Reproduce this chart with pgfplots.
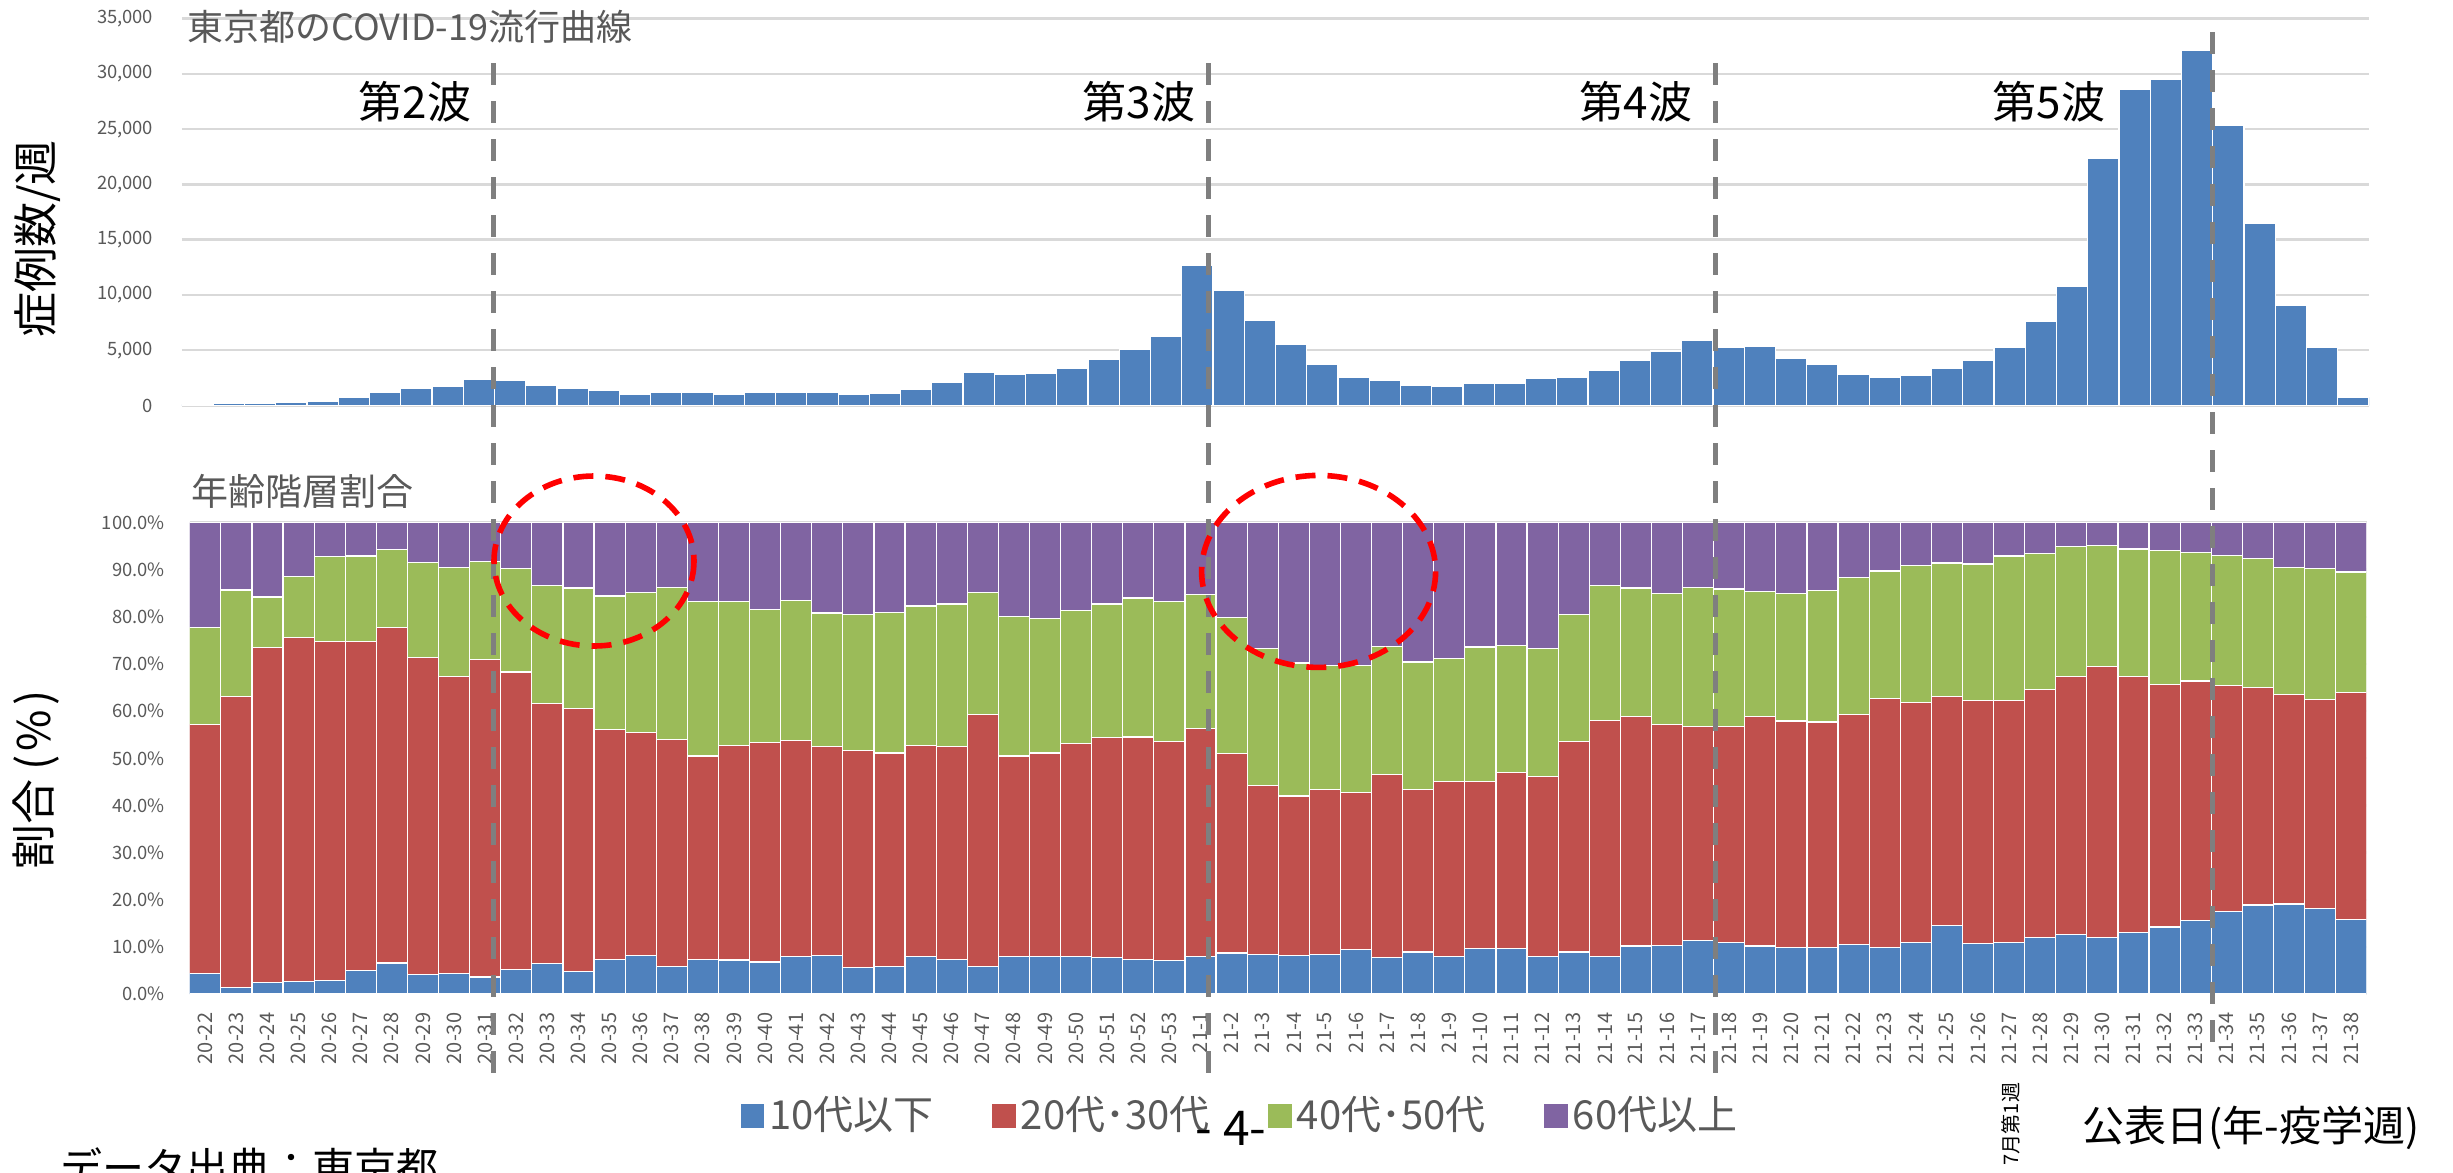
\documentclass[border=0pt]{standalone}
\usepackage{pgfplots}
\pgfplotsset{compat=1.18}
\usepackage{pgfplotstable}
\usepackage{fontspec}
\setmainfont{Noto Sans CJK JP}
\definecolor{cBlue}{HTML}{4F81BD}
\definecolor{cRed}{HTML}{C0504D}
\definecolor{cGreen}{HTML}{9BBB59}
\definecolor{cPurple}{HTML}{8064A2}
\definecolor{txtC}{HTML}{595959}
\definecolor{gridC}{HTML}{D9D9D9}
\definecolor{dashC}{HTML}{7F7F7F}

\pgfplotstableread{
i v b r g p
0 90 4.4 52.8 20.5 22.3
1 150 1.3 61.8 22.6 14.3
2 200 2.5 71.0 10.7 15.8
3 250 2.6 73.0 13.0 11.4
4 350 2.9 71.9 18.0 7.2
5 700 5.0 69.8 18.1 7.1
6 1160 6.6 71.1 16.5 5.8
7 1520 4.2 67.2 20.1 8.5
8 1760 4.4 62.9 23.2 9.5
9 2370 3.6 67.3 20.8 8.3
10 2310 5.2 63.1 21.9 9.8
11 1790 6.5 55.1 25.1 13.3
12 1550 4.8 55.7 25.6 13.9
13 1400 7.3 48.8 28.3 15.6
14 1010 8.2 47.3 29.6 14.9
15 1220 5.9 48.1 32.3 13.7
16 1190 7.3 43.2 32.8 16.7
17 1010 7.2 45.5 30.6 16.7
18 1190 6.8 46.5 28.3 18.4
19 1220 7.9 45.8 29.8 16.5
20 1220 8.2 44.3 28.3 19.2
21 1010 5.7 45.9 28.9 19.5
22 1130 5.8 45.3 29.9 19.0
23 1430 8.0 44.7 29.6 17.7
24 2060 7.3 45.2 30.2 17.3
25 3000 5.8 53.5 25.9 14.8
26 2820 8.0 42.5 29.5 20.0
27 2910 8.0 43.1 28.5 20.4
28 3360 7.9 45.2 28.3 18.6
29 4150 7.7 46.7 28.3 17.3
30 5050 7.3 47.2 29.5 16.0
31 6230 7.1 46.4 29.7 16.8
32 12700 8.0 48.3 28.5 15.2
33 10390 8.7 42.3 28.8 20.2
34 7670 8.4 35.8 29.0 26.8
35 5500 8.2 33.8 28.2 29.8
36 3750 8.4 34.9 26.3 30.4
37 2580 9.5 33.2 26.9 30.4
38 2310 7.8 38.8 27.1 26.3
39 1790 8.9 34.4 27.1 29.6
40 1730 8.0 37.1 26.0 28.9
41 1970 9.6 35.4 28.6 26.4
42 2030 9.6 37.4 27.0 26.0
43 2430 8.0 38.1 27.2 26.7
44 2550 8.9 44.6 27.0 19.5
45 3180 8.0 50.0 28.6 13.4
46 4060 10.2 48.6 27.3 13.9
47 4930 10.3 46.8 27.9 15.0
48 5870 11.4 45.4 29.5 13.7
49 5230 11.0 45.7 29.2 14.1
50 5320 10.2 48.6 26.6 14.6
51 4300 9.9 48.0 27.1 15.0
52 3720 9.9 47.8 27.9 14.4
53 2850 10.5 48.7 29.1 11.7
54 2580 9.8 52.9 27.0 10.3
55 2700 11.0 50.8 29.0 9.2
56 3390 14.6 48.5 28.3 8.6
57 4060 10.7 51.5 29.0 8.8
58 5260 11.0 51.3 30.6 7.1
59 7640 12.0 52.6 28.8 6.6
60 10810 12.7 54.6 27.6 5.1
61 22320 12.0 57.5 25.6 4.9
62 28620 13.0 54.3 27.1 5.6
63 29500 14.2 51.5 28.3 6.0
64 32150 15.6 50.8 27.2 6.4
65 25340 17.5 47.9 27.6 7.0
66 16480 18.9 46.1 27.3 7.7
67 9030 19.1 44.4 27.0 9.5
68 5260 18.2 44.3 27.7 9.8
69 740 15.8 48.1 25.6 10.5
}\data

\begin{document}
\begin{tikzpicture}
\path[use as bounding box, clip] (0pt,0pt) rectangle (613.25pt,293pt);

% top: weekly cases
\begin{axis}[
  at={(45.5pt,191.625pt)}, anchor=south west,
  scale only axis, width=546.75pt, height=96.75pt,
  xmin=-0.5, xmax=69.5, ymin=0, ymax=35000,
  ytick={0,5000,10000,15000,20000,25000,30000,35000},
  xtick=\empty,
  ymajorgrids, grid style={draw=gridC, line width=0.6pt},
  axis line style={draw=none},
  major tick length=0pt,
  scaled y ticks=false,
  /pgf/number format/1000 sep={,},
  /pgf/number format/assume math mode=true,
  yticklabel style={font=\fontsize{4.6}{5}\selectfont, text=txtC, anchor=east, inner sep=0pt},
  yticklabel shift=7pt,
]
\addplot[ybar, bar width=1, fill=cBlue, draw=white, line width=0.3pt] table[x=i,y=v]{\data};
\end{axis}

% bottom: age shares
\begin{axis}[
  at={(47.425pt,44.5pt)}, anchor=south west,
  scale only axis, width=544.25pt, height=117.875pt,
  xmin=-0.5, xmax=69.5, ymin=0, ymax=100,
  ybar stacked, bar width=1,
  ytick={0,10,20,30,40,50,60,70,80,90,100},
  yticklabel={\pgfmathprintnumber[fixed,fixed zerofill,precision=1]{\tick}\%},
  /pgf/number format/assume math mode=true,
  xtick={0,...,69},
  xticklabels={20-22,20-23,20-24,20-25,20-26,20-27,20-28,20-29,20-30,20-31,20-32,20-33,20-34,20-35,20-36,20-37,20-38,20-39,20-40,20-41,20-42,20-43,20-44,20-45,20-46,20-47,20-48,20-49,20-50,20-51,20-52,20-53,21-1,21-2,21-3,21-4,21-5,21-6,21-7,21-8,21-9,21-10,21-11,21-12,21-13,21-14,21-15,21-16,21-17,21-18,21-19,21-20,21-21,21-22,21-23,21-24,21-25,21-26,21-27,21-28,21-29,21-30,21-31,21-32,21-33,21-34,21-35,21-36,21-37,21-38},
  xticklabel style={rotate=90, anchor=east, font=\fontsize{5}{5}\selectfont, text=txtC, inner sep=0pt},
  xticklabel shift=4.5pt,
  yticklabel style={font=\fontsize{4.6}{5}\selectfont, text=txtC, anchor=east, inner sep=0pt},
  yticklabel shift=6pt,
  ymajorgrids, grid style={draw=gridC, line width=0.6pt},
  axis line style={draw=none},
  major tick length=0pt,
  legend columns=4,
  legend style={at={(0.2528,-0.2588)}, anchor=west, draw=none, fill=none, inner sep=0pt,
    font=\fontsize{10}{10}\selectfont, text=txtC,
    nodes={inner sep=1.2pt},
    /tikz/every even column/.append style={column sep=13.5pt}},
]
\addplot[fill=cBlue, draw=white, line width=0.3pt, legend image code/.code={\fill[cBlue] (0pt,-2.9pt) rectangle (5.6pt,2.9pt);}] table[x=i,y=b]{\data};
\addplot[fill=cRed, draw=white, line width=0.3pt, legend image code/.code={\fill[cRed] (0pt,-2.9pt) rectangle (5.6pt,2.9pt);}] table[x=i,y=r]{\data};
\addplot[fill=cGreen, draw=white, line width=0.3pt, legend image code/.code={\fill[cGreen] (0pt,-2.9pt) rectangle (5.6pt,2.9pt);}] table[x=i,y=g]{\data};
\addplot[fill=cPurple, draw=white, line width=0.3pt, legend image code/.code={\fill[cPurple] (0pt,-2.9pt) rectangle (5.6pt,2.9pt);}] table[x=i,y=p]{\data};
\legend{10代以下,20代･30代,40代･50代,60代以上}
\end{axis}

% annotations in pixel coordinates of the reference
\begin{scope}[x=0.25pt, y=-0.25pt, yshift=293pt]
\foreach \xx in {493.5,1208.6,1715.4}{
  \draw[dashC, line width=1.2pt, dash pattern=on 5.5pt off 4pt] (\xx,63) -- (\xx,1073);
}
\draw[dashC, line width=1.2pt, dash pattern=on 5.5pt off 4pt] (2212.5,32) -- (2212.5,1043);
\draw[red, line width=1.4pt, dash pattern=on 5pt off 3pt] (594,561) ellipse [x radius=100, y radius=85];
\draw[red, line width=1.4pt, dash pattern=on 5pt off 3pt] (1318.6,571.4) ellipse [x radius=117, y radius=96];

\node[anchor=west, text=txtC, inner sep=0pt, font=\fontsize{9}{10}\selectfont] at (187,27) {東京都のCOVID-19流行曲線};
\node[anchor=west, text=txtC, inner sep=0pt, font=\fontsize{9.25}{10}\selectfont] at (191,491) {年齢階層割合};
\node[font=\fontsize{11}{12}\selectfont, inner sep=0pt] at (415,102) {第2波};
\node[font=\fontsize{11}{12}\selectfont, inner sep=0pt] at (1139,102) {第3波};
\node[font=\fontsize{11}{12}\selectfont, inner sep=0pt] at (1636,102) {第4波};
\node[font=\fontsize{11}{12}\selectfont, inner sep=0pt] at (2049,102) {第5波};
\node[rotate=90, font=\fontsize{11.25}{12}\selectfont, inner sep=0pt] at (38,239) {症例数/週};
\node[rotate=90, font=\fontsize{11.25}{12}\selectfont, inner sep=0pt] at (36,780) {割合\kern0.2em(\kern0.1em\%\kern0.1em)};
\node[anchor=base west, inner sep=0pt, font=\fontsize{10.5}{12}\selectfont] at (60,1183) {データ出典：東京都};
\node[font=\fontsize{12}{13}\selectfont, inner sep=0pt] at (1231,1128) {- 4-};
\node[font=\fontsize{10.5}{12}\selectfont, inner sep=0pt] at (2251,1128) {公表日(年-疫学週)};
\node[rotate=90, font=\fontsize{5}{6}\selectfont, inner sep=0pt] at (2011,1124) {7月第1週};
\end{scope}
\end{tikzpicture}
\end{document}
